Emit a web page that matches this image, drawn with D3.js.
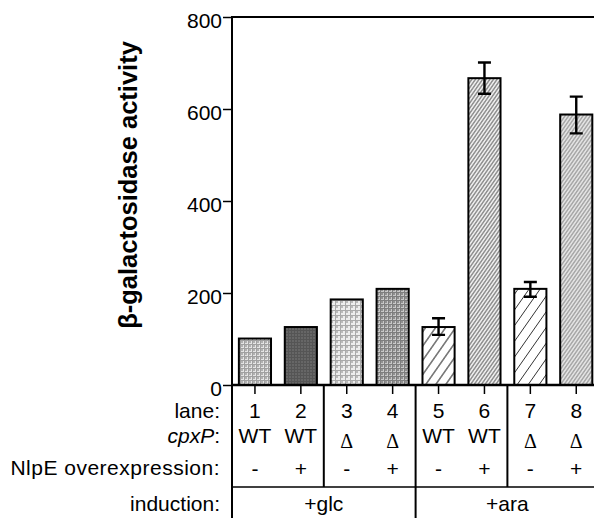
<!DOCTYPE html>
<html>
<head>
<meta charset="utf-8">
<script src="https://cdn.jsdelivr.net/npm/d3@7"></script>
<style>
  body { margin: 0; background: #fff; }
  svg { display: block; font-family: "Liberation Sans", Arial, Helvetica, sans-serif; }
</style>
</head>
<body>
<svg id="chart" width="594" height="518"></svg>
<script>
var lanes = ["1", "2", "3", "4", "5", "6", "7", "8"];
var cpxP = ["WT", "WT", "Δ", "Δ", "WT", "WT", "Δ", "Δ"];
var nlpE = ["-", "+", "-", "+", "-", "+", "-", "+"];
var activity = [101, 126, 186, 209, 126, 667, 209, 588];
var errHigh = [null, null, null, null, 145, 701, 224, 627];
var errLow = [null, null, null, null, 109, 633, 192, 547];
var inductionLabels = ["+glc", "+ara"];
var inductionEnd = ["4", "8"];
var yTicks = [0, 200, 400, 600, 800];

var svg = d3.select("#chart");
var defs = svg.append("defs");

var plotTop = 17, base = 385, left = 232, W = 594, H = 518;
var fs = 21;

var y = d3.scaleLinear().domain([0, 800]).range([base, plotTop]);
var x = d3.scaleBand().domain(lanes).range([left, left + 8 * 45.9])
    .paddingInner(0.3).paddingOuter(0.15);

// bar fill patterns
function gridPattern(id, bg, fg, size) {
    var p = defs.append("pattern").attr("id", id).attr("patternUnits", "userSpaceOnUse")
        .attr("width", size).attr("height", size);
    p.append("rect").attr("width", size).attr("height", size).attr("fill", bg);
    p.append("path").attr("d", "M0,0.5H" + size + "M0.5,0V" + size + "M1.5,1.5h1v1h-1z")
        .attr("stroke", fg).attr("stroke-width", 1).attr("fill", "none");
}
function hatchPattern(id, bg, fg, gap, sw) {
    var p = defs.append("pattern").attr("id", id).attr("patternUnits", "userSpaceOnUse")
        .attr("width", gap).attr("height", gap * 1.4)
        .attr("patternTransform", "skewX(-35)");
    p.append("rect").attr("width", gap).attr("height", gap * 1.4).attr("fill", bg);
    p.append("line").attr("x1", gap / 2).attr("x2", gap / 2).attr("y1", 0).attr("y2", gap * 1.4)
        .attr("stroke", fg).attr("stroke-width", sw);
}
gridPattern("p1", "#e4e4e4", "#a0a0a0", 4);
gridPattern("p2", "#999999", "#555555", 3);
gridPattern("p3", "#eeeeee", "#aaaaaa", 5);
gridPattern("p4", "#c8c8c8", "#7e7e7e", 4);
hatchPattern("p5", "#ffffff", "#222", 10, 1.2);
hatchPattern("p6", "#ececec", "#4a4a4a", 3.6, 1);
hatchPattern("p7", "#ffffff", "#333", 11, 1);
hatchPattern("p8", "#e2e2e2", "#707070", 3.6, 0.9);
var fills = ["p1", "p2", "p3", "p4", "p5", "p6", "p7", "p8"];

// y axis
var yAxis = svg.append("g")
    .attr("transform", "translate(" + left + ",0)")
    .call(d3.axisLeft(y).tickValues(yTicks).tickSize(9).tickPadding(1).tickSizeOuter(0));
yAxis.select(".domain").remove();
yAxis.selectAll(".tick line").attr("stroke", "#000").attr("stroke-width", 1.5);
yAxis.selectAll(".tick text").attr("font-size", fs).attr("fill", "#000")
    .attr("font-family", "Liberation Sans, Arial, sans-serif").attr("dy", "0.48em");

svg.append("text")
    .attr("transform", "translate(137,185) rotate(-90)")
    .attr("text-anchor", "middle")
    .attr("font-weight", "bold")
    .attr("font-size", 25.5)
    .text("β-galactosidase activity");

// frame lines
svg.append("line").attr("x1", left).attr("x2", left).attr("y1", plotTop - 1).attr("y2", H)
    .attr("stroke", "#000").attr("stroke-width", 2);
svg.append("line").attr("x1", left).attr("x2", W).attr("y1", plotTop).attr("y2", plotTop)
    .attr("stroke", "#000").attr("stroke-width", 2);

// bars
svg.selectAll(".bar").data(activity).enter().append("rect")
    .attr("class", "bar")
    .attr("x", function(d, i) { return x(lanes[i]); })
    .attr("y", function(d) { return y(d); })
    .attr("width", x.bandwidth())
    .attr("height", function(d) { return base - y(d); })
    .attr("fill", function(d, i) { return "url(#" + fills[i] + ")"; })
    .attr("stroke", "#000").attr("stroke-width", 2);

// error bars
var cap = 6.5;
lanes.forEach(function(l, i) {
    if (errHigh[i] == null) return;
    var c = x(l) + x.bandwidth() / 2;
    svg.append("path")
        .attr("d", "M" + (c - cap) + "," + y(errHigh[i]) + "H" + (c + cap) +
            "M" + c + "," + y(errHigh[i]) + "V" + y(errLow[i]) +
            "M" + (c - cap) + "," + y(errLow[i]) + "H" + (c + cap))
        .attr("stroke", "#000").attr("stroke-width", 2.4).attr("fill", "none");
});

// baseline
svg.append("line").attr("x1", left).attr("x2", W).attr("y1", base).attr("y2", base)
    .attr("stroke", "#000").attr("stroke-width", 2.5);

// table under the plot
var cx = function(l) { return x(l) + x.bandwidth() / 2; };
svg.selectAll(".lt").data(lanes).enter().append("line")
    .attr("x1", cx).attr("x2", cx).attr("y1", base).attr("y2", base + 9)
    .attr("stroke", "#000").attr("stroke-width", 1.5);

var sepAt = function(a, b) { return (cx(a) + cx(b)) / 2; };
[["2", "3", 487], ["4", "5", H], ["6", "7", 487]].forEach(function(s) {
    var sx = sepAt(s[0], s[1]);
    svg.append("line").attr("x1", sx).attr("x2", sx).attr("y1", base).attr("y2", s[2])
        .attr("stroke", "#000").attr("stroke-width", 2);
});
svg.append("line").attr("x1", left).attr("x2", W).attr("y1", 487).attr("y2", 487)
    .attr("stroke", "#000").attr("stroke-width", 1.6);

var rowLabels = [["lane:", 418, false], ["cpxP", 443, true], ["NlpE overexpression:", 475, false], ["induction:", 511, false]];
rowLabels.forEach(function(r) {
    var t = svg.append("text").attr("x", 220).attr("y", r[1]).attr("text-anchor", "end")
        .attr("font-size", fs);
    if (r[2]) {
        t.append("tspan").attr("font-style", "italic").text(r[0]);
        t.append("tspan").text(":");
    } else {
        t.text(r[0]);
    }
    if (r[0].length > 12) t.attr("letter-spacing", 0.5);
});

svg.selectAll(".ln").data(lanes).enter().append("text")
    .attr("x", cx).attr("y", 418).attr("text-anchor", "middle").attr("font-size", fs)
    .text(function(d) { return d; });
svg.selectAll(".cp").data(cpxP).enter().append("text")
    .attr("x", function(d, i) { return cx(lanes[i]); })
    .attr("y", function(d) { return d == "Δ" ? 448 : 443; })
    .attr("text-anchor", "middle")
    .attr("font-size", function(d) { return d == "Δ" ? 20 : fs; })
    .attr("font-family", function(d) { return d == "Δ" ? "Liberation Serif, serif" : null; })
    .text(function(d) { return d; });
svg.selectAll(".np").data(nlpE).enter().append("text")
    .attr("x", function(d, i) { return cx(lanes[i]); })
    .attr("y", 476).attr("text-anchor", "middle").attr("font-size", fs)
    .text(function(d) { return d; });
inductionLabels.forEach(function(lab, i) {
    var x0 = i == 0 ? left : sepAt("4", "5");
    var x1 = i == 0 ? sepAt("4", "5") : x(inductionEnd[i]) + x.step() * 0.85;
    svg.append("text").attr("x", (x0 + x1) / 2).attr("y", 511)
        .attr("text-anchor", "middle").attr("font-size", fs).text(lab);
});
</script>
</body>
</html>
